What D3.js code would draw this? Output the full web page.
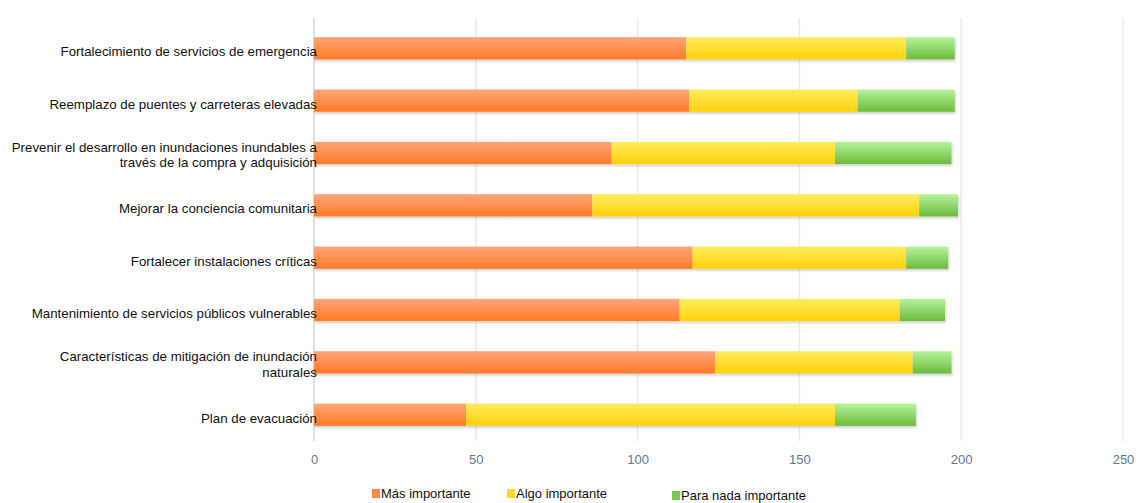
<!DOCTYPE html>
<html><head><meta charset="utf-8">
<script src="https://cdn.jsdelivr.net/npm/d3@7/dist/d3.min.js"></script>
<style>body{margin:0;background:#fff;}svg{display:block;}</style>
</head><body>
<svg id="chart" width="1138" height="503"></svg>
<script>
const categories = [
  ["Fortalecimiento de servicios de emergencia"],
  ["Reemplazo de puentes y carreteras elevadas"],
  ["Prevenir el desarrollo en inundaciones inundables a", "través de la compra y adquisición"],
  ["Mejorar la conciencia comunitaria"],
  ["Fortalecer instalaciones críticas"],
  ["Mantenimiento de servicios públicos vulnerables"],
  ["Características de mitigación de inundación", "naturales"],
  ["Plan de evacuación"]
];
const seriesNames = ["Más importante", "Algo importante", "Para nada importante"];
const masImportante = [115, 116, 92, 86, 117, 113, 124, 47];
const algoImportante = [68, 52, 69, 101, 66, 68, 61, 114];
const paraNada = [15, 30, 36, 12, 13, 14, 12, 25];
const xTicks = [0, 50, 100, 150, 200, 250];

const svg = d3.select("#chart");
const defs = svg.append("defs");
const grads = [
  ["gO", "#ffa67a", "#ff7a26"],
  ["gY", "#ffec5e", "#ffd10a"],
  ["gG", "#b6f49a", "#6cba3c"]
];
grads.forEach(([id, c1, c2]) => {
  const g = defs.append("linearGradient").attr("id", id).attr("x1", 0).attr("y1", 0).attr("x2", 0).attr("y2", 1);
  g.append("stop").attr("offset", "0%").attr("stop-color", c1);
  g.append("stop").attr("offset", "100%").attr("stop-color", c2);
});
const f = defs.append("filter").attr("id", "sh").attr("x", "-5%").attr("y", "-20%").attr("width", "110%").attr("height", "150%");
f.append("feDropShadow").attr("dx", 1).attr("dy", 2).attr("stdDeviation", 1).attr("flood-color", "#000").attr("flood-opacity", 0.18);

const x = d3.scaleLinear().domain([0, 250]).range([314, 1123]);
const y = d3.scaleBand().domain(d3.range(categories.length)).range([22, 441]).paddingInner(0.575).paddingOuter(0.29);

// gridlines
svg.append("g").selectAll("line").data(xTicks).join("line")
  .attr("x1", d => x(d)).attr("x2", d => x(d)).attr("y1", 18).attr("y2", 441)
  .attr("stroke", d => d === 0 ? "#d9e0e8" : "#e6eaf0").attr("stroke-width", d => d === 0 ? 2 : 1.5);

// tick labels
const xAxis = d3.axisBottom(x).tickValues(xTicks).tickSize(0).tickPadding(0);
const ax = svg.append("g").attr("transform", "translate(0,455)").call(xAxis);
ax.select(".domain").remove();
ax.selectAll("text").attr("font-family", "'Liberation Sans Narrow','Liberation Sans',Arial,sans-serif")
  .attr("font-size", 13).attr("fill", "#5b78a0");

// stacked data
const data = categories.map((c, i) => ({i, v: [masImportante[i], algoImportante[i], paraNada[i]]}));
const fills = ["url(#gO)", "url(#gY)", "url(#gG)"];
const bars = svg.append("g");
data.forEach(d => {
  const g = bars.append("g").attr("filter", "url(#sh)");
  let acc = 0;
  d.v.forEach((v, k) => {
    g.append("rect").attr("x", x(acc)).attr("y", y(d.i)).attr("width", x(acc + v) - x(acc))
      .attr("height", y.bandwidth()).attr("fill", fills[k]);
    acc += v;
  });
});

// category labels
const lab = svg.append("g").attr("font-family", "'Liberation Sans',Arial,sans-serif").attr("font-size", 13.3).attr("fill", "#111");
categories.forEach((lines, i) => {
  const cy = y(i) + y.bandwidth() / 2;
  const t = lab.append("text").attr("text-anchor", "end");
  const n = lines.length;
  const off = n === 1 ? 8 : 6.5;
  lines.forEach((ln, j) => {
    t.append("tspan").attr("x", 317).attr("y", cy + (j - (n - 1) / 2) * 15.5 + off).text(ln);
  });
});

// legend
const legX = [372, 507, 672];
const legY = [494, 494, 496];
const legCols = ["#ff8a48", "#ffd92e", "#7cc84c"];
const leg = svg.append("g").attr("font-family", "'Liberation Sans Narrow','Liberation Sans',Arial,sans-serif").attr("font-size", 13).attr("fill", "#111");
seriesNames.forEach((s, k) => {
  leg.append("rect").attr("x", legX[k]).attr("y", legY[k] - 5).attr("width", 8).attr("height", 9).attr("fill", legCols[k]);
  leg.append("text").attr("x", legX[k] + 9).attr("y", legY[k] + 4).text(s);
});
</script>
</body></html>
